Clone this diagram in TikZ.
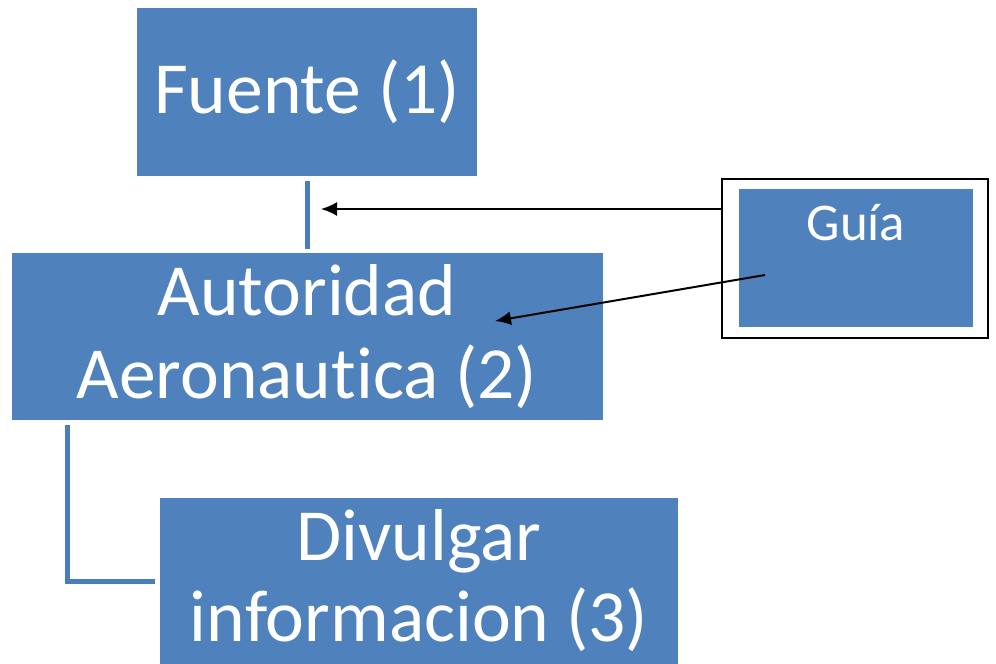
\documentclass[tikz,border=0pt]{standalone}
\usepackage{fontspec}
\setmainfont[Ligatures=NoCommon]{Carlito}
\usetikzlibrary{arrows.meta,calc}

\definecolor{cajaazul}{HTML}{4F81BD}
\definecolor{lineaazul}{HTML}{4A7EBB}

\tikzset{
    caja/.style={fill=cajaazul, text=white, inner sep=0pt, outer sep=0pt,
        align=center, font=\fontsize{73.5}{83}\selectfont},
    enlace/.style={draw=lineaazul, line width=5pt},
    flecha/.style={draw=black, line width=2pt, -{Latex[length=16pt,width=14pt]}}
}

\begin{document}
\begin{tikzpicture}[x=1pt,y=-1pt]
    \useasboundingbox (0,0) rectangle (996,664);

    \node[caja, minimum width=340, minimum height=168] (fuente) at (307,92) {Fuente (1)};
    \node[caja, minimum width=591, minimum height=167] (autoridad) at (307,336.5)
        {Autoridad\\Aeronautica (2)};
    \node[caja, minimum width=518, minimum height=166, font=\fontsize{73.5}{81}\selectfont]
        (divulgar) at (419,581) {Divulgar\\informacion (3)};

    % caja de la guia
    \node[draw=black, line width=2pt, fill=white, minimum width=266, minimum height=159,
        inner sep=0pt, outer sep=0pt] (marco) at (855,258.5) {};
    \node[caja, minimum width=234, minimum height=138] (guia) at (856,258) {};
    \node[text=white, anchor=base, font=\fontsize{53}{60}\selectfont] (guiatxt) at (856,240) {Guía};

    % conexiones
    \draw[enlace, shorten <=5pt, shorten >=4pt] (fuente) -- (autoridad);
    \draw[enlace] ($(autoridad.south west)+(56,5)$) |- ($(divulgar.west)+(-5,0)$);

    \coordinate (punta1) at (321,209);
    \coordinate (inicio2) at (765,275);
    \coordinate (punta2) at (495,321);
    \draw[flecha] (marco.west |- punta1) -- (punta1);
    \draw[flecha] (inicio2) -- (punta2);
\end{tikzpicture}
\end{document}
